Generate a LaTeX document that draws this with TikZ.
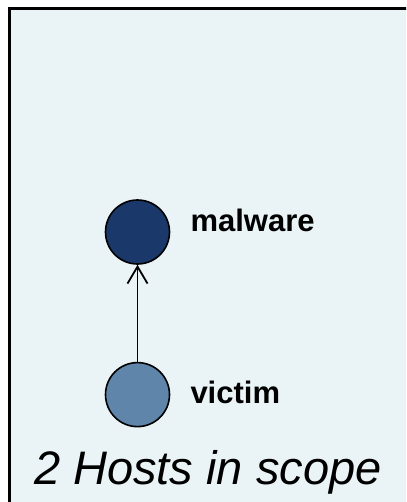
\documentclass[tikz,border=0pt]{standalone}
\usepackage{fontspec}
\setmainfont{Liberation Sans}
\usetikzlibrary{arrows.meta,positioning}
\definecolor{panelbg}{RGB}{234,244,246}
\definecolor{malwarecol}{RGB}{27,56,107}
\definecolor{victimcol}{RGB}{95,133,170}

\begin{document}
\begin{tikzpicture}[x=1pt,y=-1pt,node distance=97pt,>={Straight Barb[length=17pt,width=20pt]},
    host/.style={circle, draw, line width=1.6pt, minimum size=64pt, inner sep=0pt},
    lbl/.style={font=\bfseries\fontsize{31}{31}\selectfont, inner sep=0pt, anchor=base west},
    caption/.style={font=\itshape\fontsize{47}{47}\selectfont, inner sep=0pt, anchor=base west}]
    \useasboundingbox (0,0) rectangle (406,502);
    \clip (0,0) rectangle (406,502);
    \draw[line width=3pt, fill=panelbg] (9.5,8.5) rectangle (430,530);

    \node [host, fill=malwarecol] (malware) at (137.5,232) {};
    \node [host, fill=victimcol, below=of malware] (victim) {};
    \node [lbl] (malwarelbl) at ([xshift=20pt]malware.east) {malware};
    \node [lbl] (victimlbl) at ([xshift=20pt,yshift=-9pt]victim.east) {victim};

    \draw[->, line width=1.8pt] (victim) -- (malware);

    \node [caption] (scopelbl) at (34,484) {2 Hosts in scope};
\end{tikzpicture}
\end{document}
